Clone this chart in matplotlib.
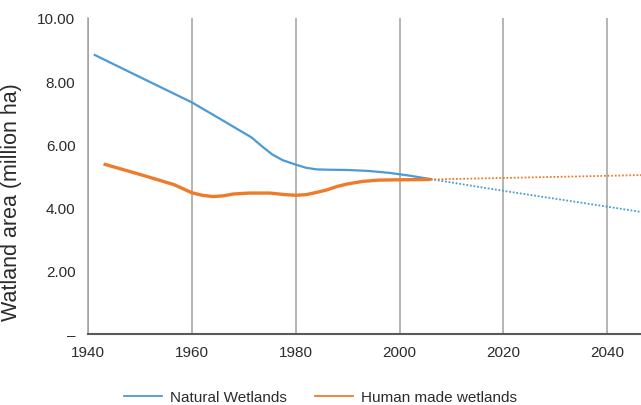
# Natural vs human made wetland area, with projection to ~2047
import matplotlib.pyplot as plt

plt.rcParams['font.family'] = ['Liberation Sans', 'DejaVu Sans']

# natural wetlands, observed
nat_years = [1941.3, 1950, 1960, 1965, 1971.5, 1973.5, 1975.5, 1977.5, 1980, 1982,
             1984, 1986, 1990, 1994, 1998, 2002, 2006]
nat_vals = [8.83, 8.13, 7.33, 6.85, 6.22, 5.94, 5.68, 5.50, 5.36, 5.26,
            5.21, 5.20, 5.19, 5.16, 5.10, 5.01, 4.90]
# natural wetlands, projection
nat_proj_years = [2006, 2020, 2040, 2047]
nat_proj_vals = [4.90, 4.53, 4.03, 3.85]

# human made wetlands, observed
hum_years = [1943, 1950, 1956.5, 1958, 1960, 1962, 1964, 1966, 1968, 1971,
             1975, 1978, 1980, 1982, 1984, 1986, 1988, 1990, 1993, 1996,
             2000, 2006]
hum_vals = [5.38, 5.05, 4.73, 4.62, 4.47, 4.39, 4.35, 4.37, 4.43, 4.46,
            4.46, 4.41, 4.39, 4.41, 4.48, 4.56, 4.67, 4.75, 4.83, 4.87,
            4.88, 4.89]
# human made wetlands, projection
hum_proj_years = [2006, 2047]
hum_proj_vals = [4.89, 5.03]

yticks = [0, 2, 4, 6, 8, 10]
ytick_labels = ['–', '2.00', '4.00', '6.00', '8.00', '10.00']
xticks = [1940, 1960, 1980, 2000, 2020, 2040]

blue = '#4a9bd6'
orange = '#ef7b2a'
txt = '#2b2b2b'

fig = plt.figure(figsize=(6.41, 4.06), dpi=100)
ax = fig.add_axes([88/641, 1 - 335/406, 1 - 88/641, (335 - 19)/406])

ax.plot(nat_years, nat_vals, color=blue, lw=1.6, solid_joinstyle='round',
        zorder=3)
ax.plot(nat_proj_years, nat_proj_vals, color=blue, lw=1.3, ls=(0, (1, 1)),
        zorder=3)
ax.plot(hum_years, hum_vals, color=orange, lw=2.4, solid_joinstyle='round',
        solid_capstyle='butt', zorder=3)
ax.plot(hum_proj_years, hum_proj_vals, color=orange, lw=1.3, ls=(0, (1, 1)),
        zorder=3)

ax.set_xlim(1940, 2046.5)
ax.set_ylim(0, 10)
ax.set_xticks(xticks)
ax.set_yticks(yticks)
ax.set_yticklabels(ytick_labels)
ax.tick_params(length=0, labelsize=11, colors=txt)
ax.tick_params(axis='x', pad=8)
ax.tick_params(axis='y', pad=9)

ax.grid(axis='x', color='#a0a0a0', lw=1.1)
for s in ['top', 'right']:
    ax.spines[s].set_visible(False)
ax.spines['left'].set_color('#a0a0a0')
ax.spines['left'].set_linewidth(1.1)
ax.spines['bottom'].set_color('#595959')
ax.spines['bottom'].set_linewidth(1.5)
ax.spines['bottom'].set_zorder(4)

ax.set_ylabel('Watland area (million ha)', fontsize=15.5, color=txt)
ax.yaxis.set_label_coords(-0.119, 0.42)

# legend shows thin lines for both series
h1, = ax.plot([], [], color=blue, lw=1.3, label='Natural Wetlands')
h2, = ax.plot([], [], color=orange, lw=1.3, label='Human made wetlands')
fig.legend(handles=[h1, h2], loc='center', bbox_to_anchor=(0.5, 0.02), ncol=2,
           frameon=False, fontsize=11, handlelength=2.5, handletextpad=0.55,
           columnspacing=1.8, labelcolor=txt)

fig.savefig('out.png', dpi=100)
